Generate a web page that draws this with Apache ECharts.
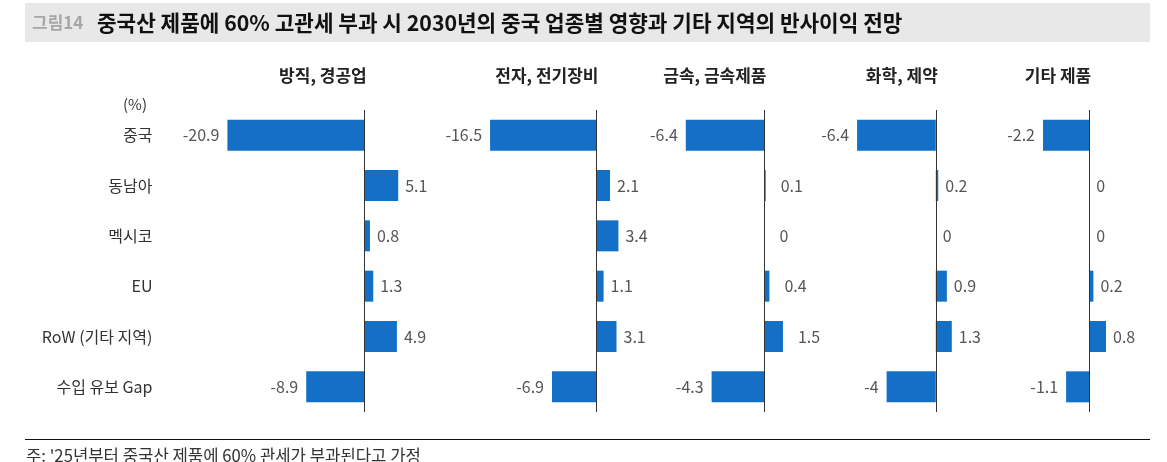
<!DOCTYPE html>
<html><head><meta charset="utf-8">
<script src="https://cdn.jsdelivr.net/npm/echarts@6/dist/echarts.min.js"></script>
<style>html,body{margin:0;padding:0;background:#fff}#c{width:1167px;height:462px}</style>
</head><body><div id="c"></div>
<script>
const categories = ['중국', '동남아', '멕시코', 'EU', 'RoW (기타 지역)', '수입 유보 Gap'];
const panelTitles = ['방직, 경공업', '전자, 전기장비', '금속, 금속제품', '화학, 제약', '기타 제품'];
const textileValues = [-20.9, 5.1, 0.8, 1.3, 4.9, -8.9];
const electronicsValues = [-16.5, 2.1, 3.4, 1.1, 3.1, -6.9];
const metalValues = [-6.4, 0.1, 0, 0.4, 1.5, -4.3];
const chemicalValues = [-6.4, 0.2, 0, 0.9, 1.3, -4];
const otherValues = [-2.2, 0, 0, 0.2, 0.8, -1.1];
const axisMins = [-25, -20, -8, -8, -3];
const axisMaxs = [10, 5, 2, 2, 1];

const seriesValues = [textileValues, electronicsValues, metalValues, chemicalValues, otherValues];
// layout (pixels)
const zeroX = [364.7, 596.5, 764.5, 935.8, 1089.2];
const pxPerUnit = [6.57, 6.45, 12.3, 12.3, 21.0];
const posDist = [7, 7, 15, 7, 7];
const FONT = "'Noto Sans CJK KR', 'Noto Sans', sans-serif";
const BAR = '#1470c6';

const grids = [], xAxes = [], yAxes = [], series = [], graphics = [];
seriesValues.forEach((vals, i) => {
  const left = zeroX[i] + axisMins[i] * pxPerUnit[i];
  const width = (axisMaxs[i] - axisMins[i]) * pxPerUnit[i];
  grids.push({ left: left, width: width, top: 110, height: 302 });
  xAxes.push({ type: 'value', gridIndex: i, min: axisMins[i], max: axisMaxs[i], show: false });
  yAxes.push({
    type: 'category', gridIndex: i, data: categories, inverse: true,
    show: i === 0,
    axisLine: { show: false }, axisTick: { show: false }, splitLine: { show: false },
    axisLabel: { show: i === 0, margin: 48, color: '#333', fontSize: 16, fontFamily: FONT }
  });
  series.push({
    type: 'bar', xAxisIndex: i, yAxisIndex: i, barWidth: 31,
    itemStyle: { color: BAR },
    data: vals.map(v => ({
      value: v,
      label: { position: v < 0 ? 'left' : 'right', distance: v < 0 ? 8 : posDist[i] }
    })),
    label: { show: true, color: '#555', fontSize: 16, fontFamily: FONT, formatter: p => String(p.value) },
    markLine: {
      silent: true, symbol: 'none', animation: false,
      label: { show: false },
      lineStyle: { color: '#333', width: 1, type: 'solid' },
      data: [{ xAxis: 0 }]
    },
    animation: false
  });
  graphics.push({
    type: 'text', x: zeroX[i] + 2, y: 76,
    style: { text: panelTitles[i], align: 'right', verticalAlign: 'middle',
      font: "bold 17px " + FONT, fill: '#222' }
  });
});

graphics.push(
  { type: 'rect', shape: { x: 25, y: 3, width: 1125, height: 39 }, style: { fill: '#e8e8e8' } },
  { type: 'text', x: 32, y: 22.5, style: { text: '그림14', verticalAlign: 'middle', font: "bold 17px " + FONT, fill: '#a6a6a6' } },
  { type: 'text', x: 97, y: 22.5, style: { text: '중국산 제품에 60% 고관세 부과 시 2030년의 중국 업종별 영향과 기타 지역의 반사이익 전망', verticalAlign: 'middle', font: "bold 21.3px " + FONT, fill: '#111' } },
  { type: 'text', x: 123, y: 104.5, style: { text: '(%)', verticalAlign: 'middle', font: "15px " + FONT, fill: '#333' } },
  { type: 'line', shape: { x1: 25, y1: 439.5, x2: 1150, y2: 439.5 }, style: { stroke: '#111', lineWidth: 1.2 } },
  { type: 'text', x: 26, y: 455.5, style: { text: "주: '25년부터 중국산 제품에 60% 관세가 부과된다고 가정", verticalAlign: 'middle', font: "16.7px " + FONT, fill: '#333' } }
);

const chart = echarts.init(document.getElementById('c'), null, { renderer: 'canvas' });
chart.setOption({
  animation: false,
  backgroundColor: '#fff',
  grid: grids, xAxis: xAxes, yAxis: yAxes, series: series,
  graphic: { elements: graphics }
});
</script></body></html>
